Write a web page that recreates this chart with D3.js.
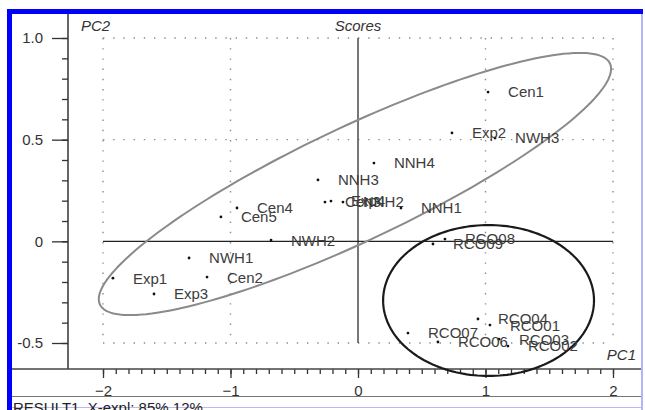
<!DOCTYPE html>
<html>
<head>
<meta charset="utf-8">
<script src="https://cdn.jsdelivr.net/npm/d3@7"></script>
<style>
  html, body { margin: 0; padding: 0; background: #fff; }
  svg { display: block; }
  text { font-family: "Liberation Sans", Arial, sans-serif; }
</style>
</head>
<body>
<svg id="chart" width="645" height="410"></svg>
<script>
// PCA score plot: sample names and their PC1 / PC2 scores
const samples = ["Cen1", "Cen2", "Cen3", "Cen4", "Cen5",
                 "Exp1", "Exp2", "Exp3", "Exp4",
                 "NNH1", "NNH2", "NNH3", "NNH4",
                 "NWH1", "NWH2", "NWH3",
                 "RCO01", "RCO02", "RCO03", "RCO04", "RCO06", "RCO07", "RCO08", "RCO09"];
const pc1 = [1.020, -1.184, -0.259, -0.949, -1.075,
             -1.922, 0.737, -1.600, -0.212,
             0.337, -0.118, -0.314, 0.125,
             -1.325, -0.682, 1.075,
             1.035, 1.176, 1.106, 0.941, 0.627, 0.392, 0.682, 0.588];
const pc2 = [0.734, -0.176, 0.193, 0.164, 0.120,
             -0.181, 0.533, -0.259, 0.198,
             0.164, 0.193, 0.302, 0.385,
             -0.082, 0.006, 0.508,
             -0.412, -0.515, -0.481, -0.382, -0.495, -0.451, 0.011, -0.013];

// Axis ticks
const xMajorTicks = [-2, -1, 0, 1, 2];
const yMajorTicks = [-0.5, 0, 0.5, 1.0];
const yTickLabels = ["-0.5", "0", "0.5", "1.0"];
const xGridTicks = [-2, -1, 1, 2];
const yGridTicks = [-0.5, 0.5, 1.0];

// Group ellipses (data units): centre, and the two semi-axis vectors
const groupEllipse = { cx: -0.024, cy: 0.282, ax: 2.0, ay: 0.593, bx: 0.191, by: -0.253 };
const rcoEllipse = { cx: 1.024, cy: -0.291, ax: 0.827, ay: 0, bx: 0, by: 0.371 };

const svg = d3.select("#chart");
const W = 645, H = 410;

const x = d3.scaleLinear().domain([-2, 2]).range([103, 613]);
const y = d3.scaleLinear().domain([-0.5, 1.0]).range([343, 38]);

const axisX = 68;      // vertical axis position
const rulerY = 369;    // horizontal ruler position
const frameL = 12, frameR = 641, frameT = 14;

// window frame
svg.append("rect").attr("x", 7).attr("y", 9).attr("width", 636).attr("height", 5).attr("fill", "#0000ff");
svg.append("rect").attr("x", 7).attr("y", 9).attr("width", 5).attr("height", H - 9).attr("fill", "#0000ff");
svg.append("line").attr("x1", 642).attr("x2", 642).attr("y1", 14).attr("y2", H)
  .attr("stroke", "#9a9aff").attr("stroke-width", 1.5);
svg.append("line").attr("x1", frameL).attr("x2", frameR).attr("y1", 407.5).attr("y2", 407.5)
  .attr("stroke", "#b8b8ff").attr("stroke-width", 1);

// dotted grid
const dotStyle = g => g.attr("stroke", "#8c8c8c").attr("stroke-width", 1.4)
  .attr("stroke-dasharray", "1.4,8.8").attr("fill", "none");
svg.append("g").selectAll("line").data(yGridTicks).join("line")
  .attr("x1", x(-2)).attr("x2", x(2))
  .attr("y1", d => y(d)).attr("y2", d => y(d))
  .call(dotStyle);
svg.append("g").selectAll("line").data(xGridTicks).join("line")
  .attr("x1", d => x(d)).attr("x2", d => x(d))
  .attr("y1", y(1.0)).attr("y2", y(-0.5))
  .call(dotStyle);

// zero lines
svg.append("line").attr("x1", x(0)).attr("x2", x(0)).attr("y1", y(1.0)).attr("y2", y(-0.5))
  .attr("stroke", "#555").attr("stroke-width", 1.6);
svg.append("line").attr("x1", x(-2)).attr("x2", x(2)).attr("y1", y(0)).attr("y2", y(0))
  .attr("stroke", "#222").attr("stroke-width", 1.4);

// vertical axis
const yAxisG = svg.append("g").attr("transform", `translate(${axisX},0)`);
yAxisG.append("g")
  .call(d3.axisLeft(y).tickValues(d3.range(-5, 11).map(i => i / 10)).tickSize(6).tickFormat(""))
  .call(g => g.select(".domain").remove());
yAxisG.append("g")
  .call(d3.axisLeft(y).tickValues(yMajorTicks).tickSize(16).tickPadding(9)
    .tickFormat((d, i) => yTickLabels[i]))
  .call(g => g.select(".domain").remove());
yAxisG.selectAll(".tick line").attr("stroke", "#333").attr("stroke-width", 1.3);
yAxisG.selectAll(".tick text").attr("fill", "#333").style("font-size", "15px")
  .style("font-family", "'Liberation Sans', Arial, sans-serif");
svg.append("line").attr("x1", axisX).attr("x2", axisX).attr("y1", frameT).attr("y2", rulerY)
  .attr("stroke", "#333").attr("stroke-width", 1.5);

// horizontal ruler
const xAxisG = svg.append("g").attr("transform", `translate(0,${rulerY})`);
xAxisG.append("g")
  .call(d3.axisBottom(x).tickValues(d3.range(-20, 21).map(i => i / 10)).tickSize(5).tickFormat(""))
  .call(g => g.select(".domain").remove());
xAxisG.append("g")
  .call(d3.axisBottom(x).tickValues(xMajorTicks).tickSize(9).tickPadding(7).tickFormat(d3.format("d")))
  .call(g => g.select(".domain").remove());
xAxisG.selectAll(".tick line").attr("stroke", "#333").attr("stroke-width", 1.3);
xAxisG.selectAll(".tick text").attr("fill", "#333").style("font-size", "15px")
  .style("font-family", "'Liberation Sans', Arial, sans-serif");
svg.append("line").attr("x1", frameL).attr("x2", frameR).attr("y1", rulerY).attr("y2", rulerY)
  .attr("stroke", "#444").attr("stroke-width", 1.5);
svg.append("line").attr("x1", frameL).attr("x2", frameR).attr("y1", 396.5).attr("y2", 396.5)
  .attr("stroke", "#777").attr("stroke-width", 1.2);

// titles
const italic = sel => sel.attr("fill", "#333").style("font-size", "15px").style("font-style", "italic");
svg.append("text").attr("x", x(0)).attr("y", 31).attr("text-anchor", "middle").text("Scores").call(italic);
svg.append("text").attr("x", 81).attr("y", 31).text("PC2").call(italic);
svg.append("text").attr("x", 636).attr("y", 360).attr("text-anchor", "end").text("PC1").call(italic);
svg.append("text").attr("x", 13).attr("y", 413).attr("fill", "#222").style("font-size", "15px")
  .text("RESULT1, X-expl: 85% 12%");

// ellipses
function ellipsePath(e) {
  const t = d3.range(0, 361, 2).map(a => a * Math.PI / 180);
  return d3.line()
    .x(a => x(e.cx + e.ax * Math.cos(a) + e.bx * Math.sin(a)))
    .y(a => y(e.cy + e.ay * Math.cos(a) + e.by * Math.sin(a)))
    .curve(d3.curveLinearClosed)(t);
}
svg.append("path").attr("d", ellipsePath(groupEllipse))
  .attr("fill", "none").attr("stroke", "#8a8a8a").attr("stroke-width", 2);
svg.append("path").attr("d", ellipsePath(rcoEllipse))
  .attr("fill", "none").attr("stroke", "#1a1a1a").attr("stroke-width", 2.2);

// points and labels
const pts = samples.map((s, i) => ({ name: s, pc1: pc1[i], pc2: pc2[i] }));
svg.append("g").selectAll("circle").data(pts).join("circle")
  .attr("cx", d => x(d.pc1)).attr("cy", d => y(d.pc2)).attr("r", 1.4).attr("fill", "#111");
svg.append("g").selectAll("text").data(pts).join("text")
  .attr("x", d => x(d.pc1) + 20).attr("y", d => y(d.pc2))
  .attr("dy", "0.36em")
  .attr("fill", "#3c3c3c").style("font-size", "15px")
  .text(d => d.name);
</script>
</body>
</html>
